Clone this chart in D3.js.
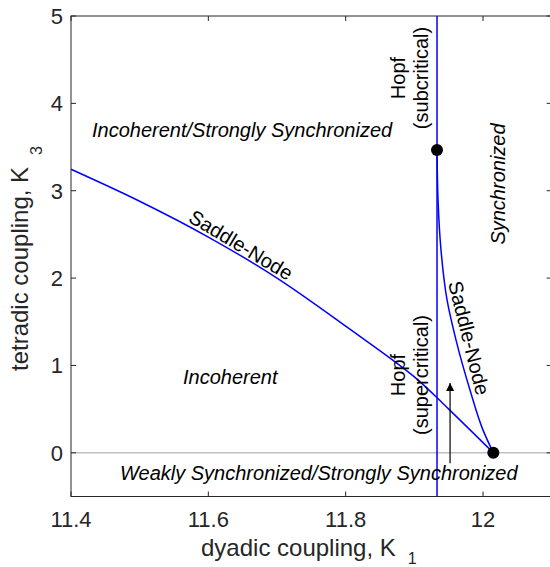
<!DOCTYPE html>
<html><head><meta charset="utf-8">
<script src="https://cdn.jsdelivr.net/npm/d3@7"></script>
<style>body{margin:0;background:#fff}svg{display:block}text{font-family:"Liberation Sans",Arial,sans-serif}</style>
</head><body>
<svg id="c" width="550" height="567"></svg>
<script>
const xTicks = [11.4, 11.6, 11.8, 12];
const yTicks = [0, 1, 2, 3, 4, 5];
const xDomain = [11.4, 12.1];
const yDomain = [-0.5, 5];
const hopfK1 = 11.933;
const snIncK1 = [11.4, 11.5, 11.6, 11.7, 11.8, 11.9, 11.95, 12.015];
const snIncK3 = [3.246, 2.88, 2.47, 2.0, 1.45, 0.87, 0.5, 0.0];
const snSyncK1 = [11.933, 11.9334, 11.9345, 11.9388, 11.9476, 11.9607, 11.981, 12.0, 12.015];
const snSyncK3 = [3.467, 3.23, 2.89, 2.32, 1.75, 1.29, 0.72, 0.26, 0.0];
const dotK1 = [11.933, 12.015];
const dotK3 = [3.467, 0.0];
const arrowK1 = 11.952;
const arrowK3 = [-0.12, 0.8];

const svg = d3.select("#c");
const L = 71, R = 551.7, T = 16, B = 496.5;
const x = d3.scaleLinear().domain(xDomain).range([L, R]);
const y = d3.scaleLinear().domain(yDomain).range([B, T]);
const axisCol = "#262626";

// zero line
svg.append("line").attr("x1", L).attr("x2", R).attr("y1", y(0)).attr("y2", y(0))
  .attr("stroke", "#c0c0c0").attr("stroke-width", 1.5);

// curves
const blue = "#0000ff";
svg.append("line").attr("x1", x(hopfK1)).attr("x2", x(hopfK1)).attr("y1", y(yDomain[0])).attr("y2", y(yDomain[1]))
  .attr("stroke", blue).attr("stroke-width", 1.5);
const lineA = d3.line().x(d => x(d[0])).y(d => y(d[1])).curve(d3.curveCatmullRom);
const lineB = d3.line().x(d => x(d[0])).y(d => y(d[1])).curve(d3.curveMonotoneY);
svg.append("path").attr("d", lineA(snIncK1.map((k, i) => [k, snIncK3[i]])))
  .attr("fill", "none").attr("stroke", blue).attr("stroke-width", 1.5);
svg.append("path").attr("d", lineB(snSyncK1.map((k, i) => [k, snSyncK3[i]])))
  .attr("fill", "none").attr("stroke", blue).attr("stroke-width", 1.5);

// arrow
svg.append("defs").append("marker").attr("id", "ah").attr("viewBox", "0 0 10 10")
  .attr("refX", 10).attr("refY", 5).attr("markerWidth", 9).attr("markerHeight", 8)
  .attr("markerUnits", "userSpaceOnUse").attr("orient", "auto")
  .append("path").attr("d", "M0,0 L10,5 L0,10 Z").attr("fill", "#000");
svg.append("line").attr("x1", x(arrowK1)).attr("x2", x(arrowK1)).attr("y1", y(arrowK3[0])).attr("y2", y(arrowK3[1]))
  .attr("stroke", "#000").attr("stroke-width", 1.2).attr("marker-end", "url(#ah)");

// dots
svg.selectAll("circle.d").data(dotK1).enter().append("circle")
  .attr("cx", d => x(d)).attr("cy", (d, i) => y(dotK3[i])).attr("r", 6).attr("fill", "#000");

// axes box
const g = svg.append("g");
g.append("rect").attr("x", L).attr("y", T).attr("width", R - L).attr("height", B - T)
  .attr("fill", "none").attr("stroke", axisCol).attr("stroke-width", 1);
const tl = 5;
xTicks.forEach(t => {
  g.append("line").attr("x1", x(t)).attr("x2", x(t)).attr("y1", B).attr("y2", B - tl).attr("stroke", axisCol);
  g.append("line").attr("x1", x(t)).attr("x2", x(t)).attr("y1", T).attr("y2", T + tl).attr("stroke", axisCol);
  g.append("text").attr("x", x(t)).attr("y", 527).attr("text-anchor", "middle")
    .attr("font-size", 22).attr("fill", axisCol).text(d3.format("")(t));
});
yTicks.forEach(t => {
  g.append("line").attr("x1", L).attr("x2", L + tl).attr("y1", y(t)).attr("y2", y(t)).attr("stroke", axisCol);
  g.append("line").attr("x1", R).attr("x2", R - tl).attr("y1", y(t)).attr("y2", y(t)).attr("stroke", axisCol);
  g.append("text").attr("x", 63).attr("y", y(t)).attr("dy", "0.36em").attr("text-anchor", "end")
    .attr("font-size", 22).attr("fill", axisCol).text(t);
});

// axis labels
const xl = svg.append("text").attr("x", 201).attr("y", 556).attr("font-size", 24).attr("fill", axisCol);
xl.append("tspan").text("dyadic coupling, K");
xl.append("tspan").attr("font-size", 16).attr("dx", 12).attr("dy", 8).text("1");
const yl = svg.append("text").attr("transform", "translate(28,371) rotate(-90)").attr("font-size", 24).attr("fill", axisCol);
yl.append("tspan").text("tetradic coupling, K");
yl.append("tspan").attr("font-size", 16).attr("dx", 12).attr("dy", 14).text("3");

// annotations
function ital(txt, px, py, rot) {
  svg.append("text").attr("transform", `translate(${px},${py}) rotate(${rot || 0})`)
    .attr("font-size", 20).attr("font-style", "italic").attr("fill", "#000").text(txt);
}
ital("Incoherent/Strongly Synchronized", 92, 137);
ital("Incoherent", 183, 384);
ital("Weakly Synchronized/Strongly Synchronized", 120, 480);
svg.append("text").attr("transform", "translate(505,184) rotate(-90)").attr("text-anchor", "middle")
  .attr("font-size", 20).attr("font-style", "italic").text("Synchronized");

function two(l1, l2, cx, cy) {
  const t = svg.append("text").attr("transform", `translate(${cx},${cy}) rotate(-90)`)
    .attr("text-anchor", "middle").attr("font-size", 20).attr("fill", "#000");
  t.append("tspan").attr("x", 0).attr("y", 0).text(l1);
  t.append("tspan").attr("x", 0).attr("y", 23).text(l2);
}
two("Hopf", "(subcritical)", 405, 78);
two("Hopf", "(supercritical)", 405, 375);

svg.append("text").attr("transform", "translate(241,245) rotate(31)").attr("text-anchor", "middle")
  .attr("dy", "0.35em").attr("font-size", 20).text("Saddle-Node");
svg.append("text").attr("transform", "translate(469,338) rotate(76)").attr("text-anchor", "middle")
  .attr("dy", "0.35em").attr("font-size", 20).text("Saddle-Node");
</script>
</body></html>
